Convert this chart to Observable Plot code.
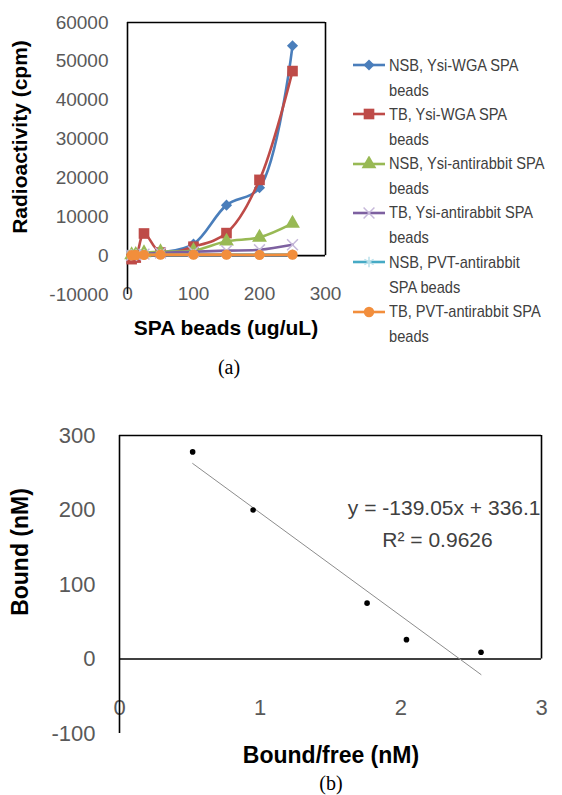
<!DOCTYPE html>
<html>
<head>
<meta charset="utf-8">
<script src="https://cdn.jsdelivr.net/npm/d3@7"></script>
<script src="https://cdn.jsdelivr.net/npm/@observablehq/plot@0.6"></script>
<style>
  html, body { margin: 0; padding: 0; background: #fff; }
  #root { position: relative; width: 562px; height: 795px; background: #fff; overflow: hidden;
          font-family: "Liberation Sans", Arial, sans-serif; }
  .abs { position: absolute; white-space: nowrap; }
  .ctr { transform: translate(-50%, -50%); }
  .axt { font-weight: bold; color: #000; }
  .cap { font-family: "Liberation Serif", "Times New Roman", serif; font-size: 20px; color: #000; }
  .leg { font-family: "Liberation Sans", Arial, sans-serif;
         font-size: 17px; line-height: 25px; color: #404040;
         transform: scaleX(0.86); transform-origin: 0 0; }
</style>
</head>
<body>
<div id="root"></div>
<script>
// ---------- Chart (a) data ----------
const beadConc = [6.25, 12.5, 25, 50, 100, 150, 200, 250];
const nsbWGA   = [100, 200, 400, 800, 3000, 13000, 17500, 54000];
const tbWGA    = [-900, -500, 5700, 800, 2300, 5800, 19500, 47500];
const nsbAnti  = [200, 300, 700, 1000, 1300, 3700, 4700, 8300];
const tbAnti   = [100, 200, 400, 700, 1000, 1300, 1500, 2800];
const nsbPVT   = [200, 250, 300, 300, 300, 300, 300, 300];
const tbPVT    = [100, 150, 200, 250, 250, 250, 200, 250];
const seriesNames = [
  ["NSB, Ysi-WGA SPA", "beads"],
  ["TB, Ysi-WGA SPA", "beads"],
  ["NSB, Ysi-antirabbit SPA", "beads"],
  ["TB, Ysi-antirabbit SPA", "beads"],
  ["NSB, PVT-antirabbit", "SPA beads"],
  ["TB, PVT-antirabbit SPA", "beads"]
];
const seriesValues = [nsbWGA, tbWGA, nsbAnti, tbAnti, nsbPVT, tbPVT];
const seriesColors = ["#4A7EBB", "#BE4B48", "#98B954", "#7D60A0", "#46AAC5", "#F28E3C"];
const markerColors = ["#4A7EBB", "#BE4B48", "#98B954", "#C6B8DA", "#B9E0EA", "#F28E3C"];
const seriesSymbols = ["diamond2", "square", "triangle", "times", "asterisk", "circle"];
const symbolFilled = [true, true, true, false, false, true];
const symbolR = [5, 6, 5.5, 5, 5, 5.2];
const xTicksA = [0, 100, 200, 300];
const yTicksA = [-10000, 0, 10000, 20000, 30000, 40000, 50000, 60000];

// ---------- Chart (b) data ----------
const boundFree = [0.52, 0.95, 1.76, 2.04, 2.57];
const bound     = [278, 200, 75, 26, 9];
const xTicksB = [0, 1, 2, 3];
const yTicksB = [-100, 0, 100, 200, 300];
const eqText = "y = -139.05x + 336.1";
const r2Text = "R\u00B2 = 0.9626";

const root = document.getElementById("root");
const fontSans = "'Liberation Sans', Arial, sans-serif";

// ---------- Plot (a) ----------
const rowsA = [];
seriesValues.forEach((vals, s) => vals.forEach((v, i) => rowsA.push({s, x: beadConc[i], y: v})));

const marksA = [
  Plot.axisY({ticks: yTicksA, tickSize: 0, tickPadding: 19, tickFormat: d => String(d), label: null}),
  Plot.axisX({ticks: xTicksA, tickSize: 0, tickPadding: -8, tickFormat: d => String(d), label: null}),
  Plot.ruleX([xTicksA[0]], {y1: yTicksA[0], y2: yTicksA[yTicksA.length - 1], stroke: "#000", strokeWidth: 1.6}),
  Plot.ruleY([yTicksA[yTicksA.length - 1]], {x1: xTicksA[0], x2: xTicksA[xTicksA.length - 1], stroke: "#000", strokeWidth: 1.6}),
  Plot.ruleX([xTicksA[xTicksA.length - 1]], {y1: 0, y2: yTicksA[yTicksA.length - 1], stroke: "#000", strokeWidth: 1.6}),
  Plot.ruleY([0], {x1: xTicksA[0], x2: xTicksA[xTicksA.length - 1], stroke: "#000", strokeWidth: 1.6})
];
seriesValues.forEach((vals, s) => {
  const d = rowsA.filter(r => r.s === s);
  marksA.push(Plot.line(d, {x: "x", y: "y", stroke: seriesColors[s], strokeWidth: 2.6, curve: "catmull-rom"}));
  marksA.push(Plot.dot(d, symbolFilled[s]
    ? {x: "x", y: "y", symbol: seriesSymbols[s], r: symbolR[s], fill: markerColors[s], stroke: "none"}
    : {x: "x", y: "y", symbol: seriesSymbols[s], r: symbolR[s], fill: "none", stroke: markerColors[s], strokeWidth: 1.5}));
});

const plotA = Plot.plot({
  width: 562, height: 345,
  marginLeft: 127, marginRight: 237, marginTop: 22, marginBottom: 51,
  x: {domain: [xTicksA[0], xTicksA[xTicksA.length - 1]]},
  y: {domain: [yTicksA[0], yTicksA[yTicksA.length - 1]]},
  style: {fontSize: "19px", color: "#595959", fontFamily: fontSans, background: "transparent", overflow: "visible"},
  marks: marksA
});
plotA.style.position = "absolute";
plotA.style.left = "0px";
plotA.style.top = "0px";
root.appendChild(plotA);

// ---------- Plot (b) ----------
const rowsB = boundFree.map((x, i) => ({x, y: bound[i]}));
const plotB = Plot.plot({
  width: 562, height: 395,
  marginLeft: 119, marginRight: 21, marginTop: 35, marginBottom: 62,
  x: {domain: [xTicksB[0], xTicksB[xTicksB.length - 1]]},
  y: {domain: [yTicksB[0], yTicksB[yTicksB.length - 1]]},
  style: {fontSize: "22px", color: "#595959", fontFamily: fontSans, background: "transparent", overflow: "visible"},
  marks: [
    Plot.axisY({ticks: yTicksB, tickSize: 0, tickPadding: 24, tickFormat: d => String(d), label: null}),
    Plot.axisX({ticks: xTicksB, tickSize: 0, tickPadding: -34, tickFormat: d => String(d), label: null}),
    Plot.ruleX([xTicksB[0]], {y1: yTicksB[0], y2: yTicksB[yTicksB.length - 1], stroke: "#000", strokeWidth: 1.6}),
    Plot.ruleY([yTicksB[yTicksB.length - 1]], {x1: xTicksB[0], x2: xTicksB[xTicksB.length - 1], stroke: "#000", strokeWidth: 1.6}),
    Plot.ruleX([xTicksB[xTicksB.length - 1]], {y1: 0, y2: yTicksB[yTicksB.length - 1], stroke: "#000", strokeWidth: 1.6}),
    Plot.ruleY([0], {x1: xTicksB[0], x2: xTicksB[xTicksB.length - 1], stroke: "#000", strokeWidth: 1.6}),
    Plot.linearRegressionY(rowsB, {x: "x", y: "y", ci: 0, stroke: "#8c8c8c", strokeWidth: 1}),
    Plot.dot(rowsB, {x: "x", y: "y", r: 2.8, fill: "#000", stroke: "none"}),
    Plot.text([eqText], {frameAnchor: "top-right", text: d => d, textAnchor: "end", dx: -1, dy: 65, fontSize: 21, fill: "#404040"}),
    Plot.text([r2Text], {frameAnchor: "top-right", text: d => d, textAnchor: "middle", dx: -104, dy: 97, fontSize: 21, fill: "#404040"})
  ]
});
plotB.style.position = "absolute";
plotB.style.left = "0px";
plotB.style.top = "400px";
root.appendChild(plotB);

// ---------- HTML texts ----------
function addText(txt, cls, left, top, extra) {
  const el = document.createElement("div");
  el.className = "abs " + cls;
  el.textContent = txt;
  el.style.left = left + "px";
  el.style.top = top + "px";
  if (extra) Object.assign(el.style, extra);
  root.appendChild(el);
  return el;
}
addText("Radioactivity (cpm)", "axt", 20, 137, {fontSize: "21px", transform: "translate(-50%,-50%) rotate(-90deg)"});
addText("SPA beads (ug/uL)", "axt ctr", 226, 328, {fontSize: "21px"});
addText("(a)", "cap ctr", 229, 367);
addText("Bound (nM)", "axt", 20, 552, {fontSize: "23px", transform: "translate(-50%,-50%) rotate(-90deg)"});
addText("Bound/free (nM)", "axt ctr", 331, 755, {fontSize: "23px"});
addText("(b)", "cap ctr", 331, 783);

// ---------- Legend (a) ----------
const symMap = {diamond2: d3.symbolDiamond2, square: d3.symbolSquare, triangle: d3.symbolTriangle,
                times: d3.symbolTimes, asterisk: d3.symbolAsterisk, circle: d3.symbolCircle};
seriesNames.forEach((lines, s) => {
  const cy = 65 + s * 49.3;
  const sw = d3.create("svg").attr("width", 36).attr("height", 16)
    .style("position", "absolute").style("left", "352px").style("top", (cy - 8) + "px");
  sw.append("line").attr("x1", 1).attr("x2", 33).attr("y1", 8).attr("y2", 8)
    .attr("stroke", seriesColors[s]).attr("stroke-width", 2.6);
  const path = sw.append("path").attr("transform", "translate(17,8)")
    .attr("d", d3.symbol(symMap[seriesSymbols[s]], Math.PI * symbolR[s] * symbolR[s])());
  if (symbolFilled[s]) path.attr("fill", markerColors[s]);
  else path.attr("fill", "none").attr("stroke", markerColors[s]).attr("stroke-width", 1.5);
  root.appendChild(sw.node());
  const el = document.createElement("div");
  el.className = "abs leg";
  el.style.left = "389px";
  el.style.top = (cy - 12.5) + "px";
  el.innerHTML = lines.join("<br>");
  root.appendChild(el);
});
</script>
</body>
</html>
